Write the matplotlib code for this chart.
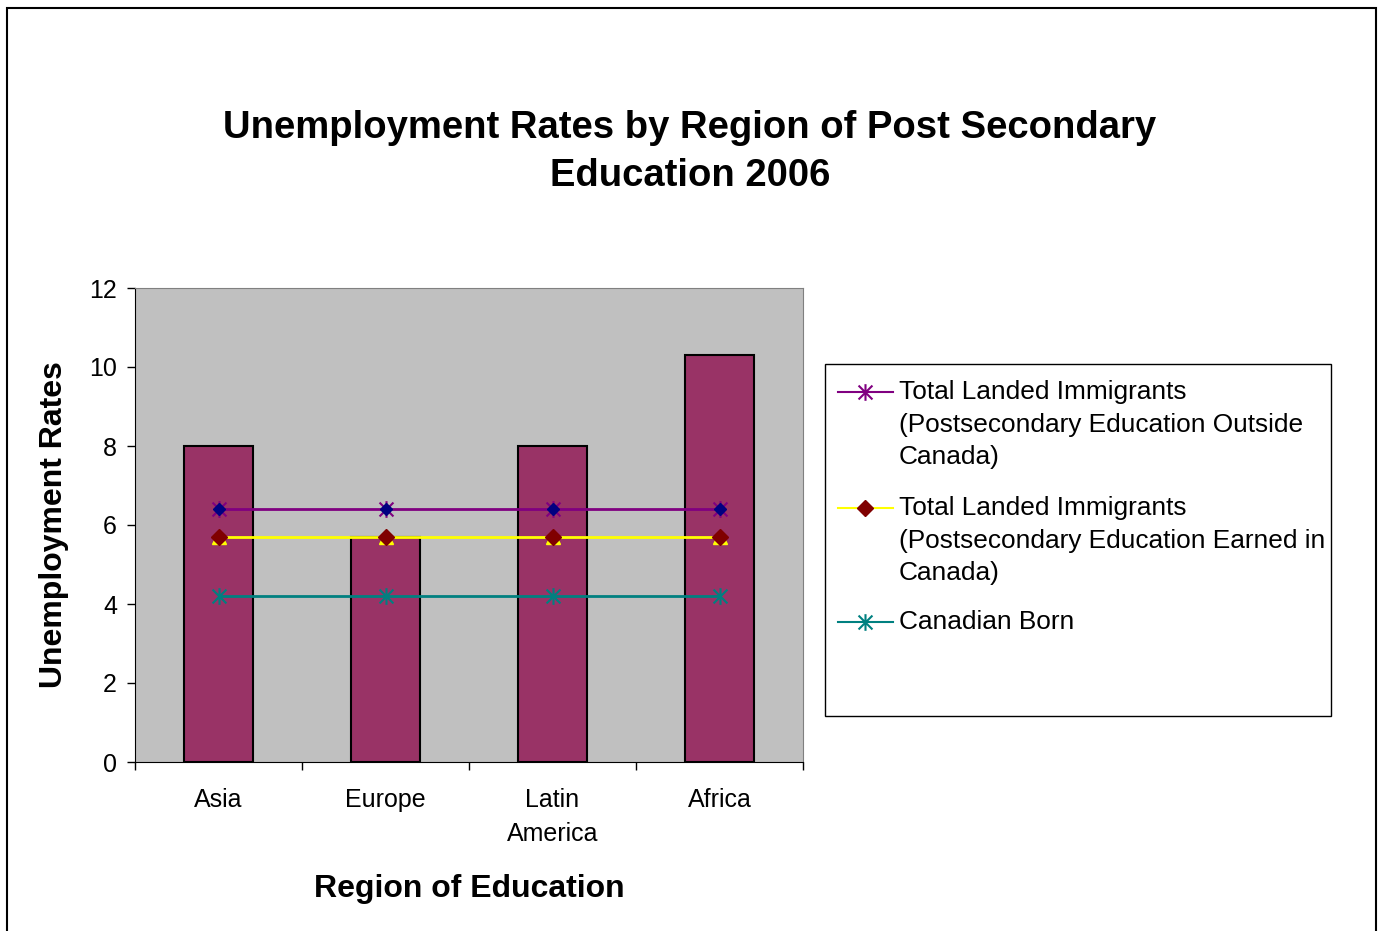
import numpy as np
import matplotlib
matplotlib.use("Agg")
import matplotlib.pyplot as plt
from matplotlib.path import Path
from matplotlib.lines import Line2D
from matplotlib.patches import Rectangle

plt.rcParams['font.family'] = ['Liberation Sans', 'DejaVu Sans']

# data
regions = ['Asia', 'Europe', 'Latin\nAmerica', 'Africa']
bar_rates = [8.0, 5.7, 8.0, 10.3]
outside_canada = [6.4, 6.4, 6.4, 6.4]
earned_canada = [5.7, 5.7, 5.7, 5.7]
canadian_born = [4.2, 4.2, 4.2, 4.2]

series_labels = [
    'Total Landed Immigrants\n(Postsecondary Education Outside\nCanada)',
    'Total Landed Immigrants\n(Postsecondary Education Earned in\nCanada)',
    'Canadian Born',
]

W, H = 1380, 931

# excel style star marker: an X with a vertical bar
star = Path([(-1, -1), (1, 1), (-1, 1), (1, -1), (0, -1.2), (0, 1.2)],
            [Path.MOVETO, Path.LINETO, Path.MOVETO, Path.LINETO, Path.MOVETO, Path.LINETO])

fig = plt.figure(figsize=(13.8, 9.31), dpi=100)
ax = fig.add_axes([135 / W, 1 - 762 / H, (803 - 135) / W, (762 - 288) / H])
ax.set_facecolor('#C0C0C0')

x = np.arange(len(regions))
ax.bar(x, bar_rates, width=0.41, color='#993366', edgecolor='black', linewidth=1.5, zorder=2)

# purple series
ax.plot(x, outside_canada, color='#800080', lw=2, zorder=3)
ax.plot(x, outside_canada, ls='none', marker=star, ms=12, mec='#800080', mfc='none', mew=1.5, zorder=4)
ax.plot(x, outside_canada, ls='none', marker='D', ms=6, color='#000080', zorder=5)
# yellow series
ax.plot(x, earned_canada, ls='none', marker='^', ms=10, color='#FFFF00', zorder=3)
ax.plot(x, earned_canada, color='#FFFF00', lw=2, zorder=3)
ax.plot(x, earned_canada, ls='none', marker='D', ms=8, color='#800000', zorder=4)
# teal series
ax.plot(x, canadian_born, color='#008080', lw=2, zorder=3)
ax.plot(x, canadian_born, ls='none', marker=star, ms=12, mec='#008080', mfc='none', mew=1.5, zorder=4)

ax.set_xlim(-0.5, len(regions) - 0.5)
ax.set_ylim(0, 12)
ax.set_yticks(np.arange(0, 13, 2))
ax.set_xticks(x)
ax.set_xticklabels(regions, linespacing=1.5)
ax.set_xticks(np.arange(-0.5, len(regions), 1), minor=True)
ax.tick_params(axis='x', which='major', length=0, pad=19, labelsize=18)
ax.tick_params(axis='x', which='minor', length=6, width=1, direction='out')
ax.tick_params(axis='y', length=6, width=1, direction='out', pad=7, labelsize=18)

for side in ['top', 'right']:
    ax.spines[side].set_color('#808080')
for side in ['left', 'bottom']:
    ax.spines[side].set_color('black')

ax.set_xlabel('Region of Education', fontsize=23, fontweight='bold', va='center')
ax.xaxis.set_label_coords(0.5, (762 - 889) / 474)
ax.set_ylabel('Unemployment Rates', fontsize=23, fontweight='bold', va='center')
ax.yaxis.set_label_coords((54 - 135) / 668, 0.5)

fig.text(0.5, 1 - 152 / H, 'Unemployment Rates by Region of Post Secondary\nEducation 2006',
         ha='center', va='center', fontsize=27.5, fontweight='bold', linespacing=1.45)

# legend drawn by hand to match the excel layout
fig.add_artist(Rectangle((825 / W, 1 - 716 / H), (1331 - 825) / W, (716 - 364) / H,
                         transform=fig.transFigure, fill=False, edgecolor='black', lw=1))
legend_rows = [392, 508, 622]
legend_styles = [
    dict(color='#800080', marker=star, ms=12, mec='#800080', mfc='none', mew=1.5),
    dict(color='#FFFF00', marker='D', ms=8, mec='#800000', mfc='#800000'),
    dict(color='#008080', marker=star, ms=12, mec='#008080', mfc='none', mew=1.5),
]
for row, style, label in zip(legend_rows, legend_styles, series_labels):
    yy = 1 - row / H
    fig.add_artist(Line2D([838 / W, 893 / W], [yy, yy], transform=fig.transFigure,
                          color=style['color'], lw=1.5))
    fig.add_artist(Line2D([865 / W], [yy], transform=fig.transFigure, ls='none',
                          marker=style['marker'], ms=style['ms'], mec=style['mec'],
                          mfc=style['mfc'], mew=style.get('mew', 1)))
    fig.text(899 / W, 1 - (row - 12) / H, label, ha='left', va='top', fontsize=18.9, linespacing=1.46)

# outer chart border (bottom edge is cut off in the original)
fig.add_artist(Rectangle((7 / W, -0.05), (1376 - 7) / W, 1.05 - 8 / H,
                         transform=fig.transFigure, fill=False, edgecolor='black', lw=1.5))

fig.savefig('out.png', dpi=100)
